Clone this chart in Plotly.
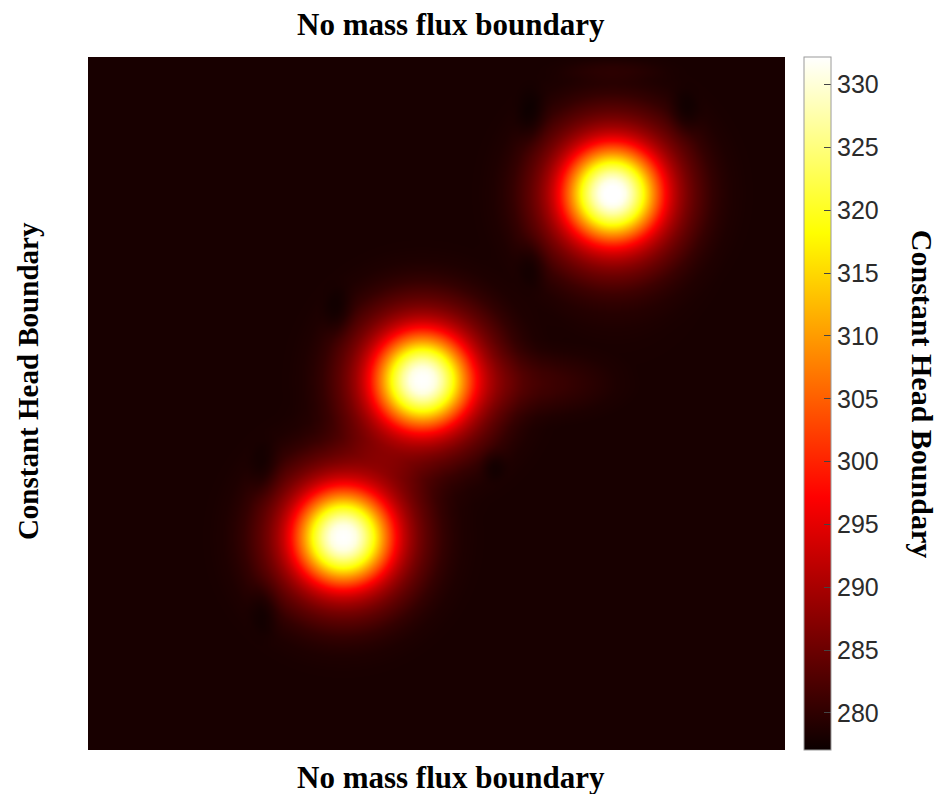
import numpy as np
import plotly.graph_objects as go

# ---------------- data ----------------
# plot area size in pixel-like units (x from left, y from top)
W, H = 697, 693
base_level = 278.1          # background head value
z_min, z_max = 277.05, 332.2

# centres of the three hot spots
spot_x = [524, 334, 255]
spot_y = [136, 323, 480]
# radial profile of a hot spot: distance -> value
profile_r = [0, 7, 13, 20, 30, 40, 52, 60, 67, 75, 83, 92, 100, 110, 120, 135, 150]
profile_v = [332.2, 331.8, 330.5, 326.5, 319.0, 309.0, 298.0, 292.5, 289.0,
             286.0, 283.8, 281.9, 280.4, 279.3, 278.6, 278.2, 278.1]

# faint secondary features (halos, tails, dips): centre, radii, amplitude
feat_x = [527, 524, 450, 443, 596, 444, 250, 405, 176, 176]
feat_y = [200, 13, 326, 59, 56, 206, 255, 408, 413, 550]
feat_rx = [110, 75, 105, 22, 22, 22, 22, 18, 22, 22]
feat_ry = [120, 16, 45, 40, 34, 36, 36, 22, 40, 40]
feat_amp = [1.2, 1.2, 3.0, -1.6, -1.6, -1.6, -1.6, -1.4, -1.6, -1.6]
feat_shape_r = [0, 0.25, 0.5, 0.75, 1.0]
feat_shape_v = [1, 0.85, 0.5, 0.15, 0]

cbar_ticks = [280, 285, 290, 295, 300, 305, 310, 315, 320, 325, 330]

# ---------------- build the value table ----------------
xs = np.arange(0, W + 1, 3)
ys = np.arange(0, H + 1, 3)
X, Y = np.meshgrid(xs, ys)
Z = np.full(X.shape, base_level)
for sx, sy in zip(spot_x, spot_y):
    d = np.hypot(X - sx, Y - sy)
    Z += np.interp(d, profile_r, profile_v) - base_level
for fx, fy, rx, ry, a in zip(feat_x, feat_y, feat_rx, feat_ry, feat_amp):
    d = np.hypot((X - fx) / rx, (Y - fy) / ry)
    Z += a * np.interp(d, feat_shape_r, feat_shape_v)
Z = np.clip(Z, z_min, z_max)

hot = [[0, 'rgb(11,0,0)'], [0.365, 'rgb(255,0,0)'],
       [0.746, 'rgb(255,255,0)'], [1, 'rgb(255,255,255)']]

fig = go.Figure(go.Heatmap(
    x=xs, y=ys, z=Z, zmin=z_min, zmax=z_max, zsmooth='best',
    colorscale=hot, hoverinfo='skip',
    colorbar=dict(
        x=1.0273, xanchor='left', xpad=0, ypad=0, y=0.5, yanchor='middle',
        len=1, lenmode='fraction', thickness=27,
        outlinecolor='#9a9a9a', outlinewidth=1,
        tickvals=cbar_ticks, ticks='inside', ticklen=7, tickcolor='#444',
        tickfont=dict(family='Liberation Sans', size=25, color='#2b2b2b'),
    ),
))

fig.update_xaxes(range=[0, W], showgrid=False, zeroline=False,
                 showticklabels=False, ticks='')
fig.update_yaxes(range=[H, 0], showgrid=False, zeroline=False,
                 showticklabels=False, ticks='')

title_font = dict(family='Liberation Serif', size=31, color='black')
fig.update_layout(
    width=941, height=794,
    margin=dict(l=88, r=156, t=57, b=44),
    paper_bgcolor='white', plot_bgcolor='black',
    annotations=[
        dict(text='<b>No mass flux boundary</b>', xref='paper', yref='paper',
             x=0.521, y=1.047, xanchor='center', yanchor='middle',
             showarrow=False, font=title_font),
        dict(text='<b>No mass flux boundary</b>', xref='paper', yref='paper',
             x=0.521, y=-0.040, xanchor='center', yanchor='middle',
             showarrow=False, font=title_font),
        dict(text='<b>Constant Head Boundary</b>', xref='paper', yref='paper',
             x=-0.085, y=0.532, xanchor='center', yanchor='middle',
             textangle=-90, showarrow=False,
             font=dict(family='Liberation Serif', size=29, color='black')),
        dict(text='<b>Constant Head Boundary</b>', xref='paper', yref='paper',
             x=1.1965, y=0.514, xanchor='center', yanchor='middle',
             textangle=90, showarrow=False,
             font=dict(family='Liberation Serif', size=30, color='black')),
    ],
)

fig.write_html('out.html')
